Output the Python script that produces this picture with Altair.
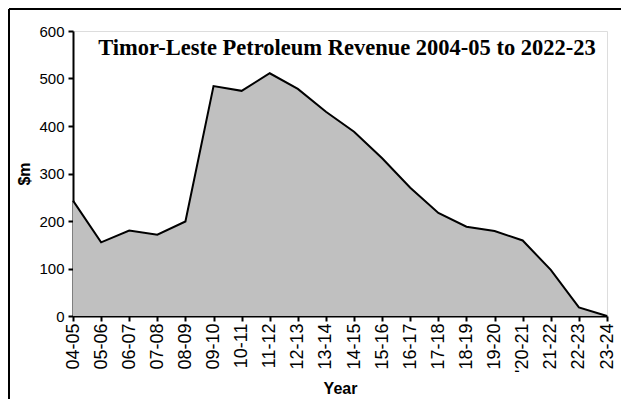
import altair as alt
import pandas as pd

years = ["04-05", "05-06", "06-07", "07-08", "08-09", "09-10", "10-11", "11-12",
         "12-13", "13-14", "14-15", "15-16", "16-17", "17-18", "18-19", "19-20",
         "'20-21", "21-22", "22-23", "23-24"]
revenue = [243, 155, 180, 171, 199, 484, 474, 511, 478, 430, 388, 332, 270, 217,
           188, 179, 159, 97, 18, 0]
title_text = "Timor-Leste Petroleum Revenue 2004-05 to 2022-23"

df = pd.DataFrame({"Year": years, "Revenue": revenue})
one = pd.DataFrame({"k": [0]})

W, H = 534, 285

area = alt.Chart(df).mark_area(
    color="#c0c0c0", opacity=1,
    line={"color": "black", "strokeWidth": 2}
).encode(
    x=alt.X("Year:N", sort=years, scale=alt.Scale(type="point", padding=0),
            axis=alt.Axis(title="Year", labelAngle=-90, labelFontSize=18,
                          labelFont="Liberation Sans", labelColor="black",
                          titleFont="Liberation Sans", titleFontSize=16,
                          titleFontWeight="bold", titleColor="black",
                          titlePadding=8, labelPadding=2,
                          tickSize=5, tickColor="black", tickWidth=2,
                          domainColor="black", domainWidth=2, grid=False)),
    y=alt.Y("Revenue:Q", scale=alt.Scale(domain=[0, 600], nice=False),
            axis=alt.Axis(title="$m", values=[0, 100, 200, 300, 400, 500, 600],
                          labelFontSize=15, labelFont="Liberation Sans Narrow, Liberation Sans",
                          labelColor="black", titleFont="Liberation Sans",
                          titleFontSize=16, titleFontWeight="bold", titleColor="black",
                          titlePadding=6, labelPadding=4,
                          tickSize=5, tickColor="black", tickWidth=2,
                          domainColor="black", domainWidth=2, grid=False)),
)

title = alt.Chart(one).mark_text(
    text=title_text, font="Liberation Serif", fontSize=22.5, fontWeight="bold",
    align="center", baseline="alphabetic", color="black"
).encode(x=alt.value(274), y=alt.value(24))

frame_left = alt.Chart(one).mark_rule(color="black", strokeWidth=2).encode(
    x=alt.value(-64), y=alt.value(-22), y2=alt.value(H + 83))
frame_top = alt.Chart(one).mark_rule(color="black", strokeWidth=2).encode(
    x=alt.value(-64), x2=alt.value(W + 14), y=alt.value(-22))

chart = alt.layer(area, title, frame_left, frame_top).properties(
    width=W, height=H,
    autosize=alt.AutoSizeParams(type="none"),
    padding={"left": 65, "top": 23, "right": 14, "bottom": 83},
).configure_view(stroke=None).configure(background="white")

chart.save("out.html", embed_options={"renderer": "svg", "actions": False})
